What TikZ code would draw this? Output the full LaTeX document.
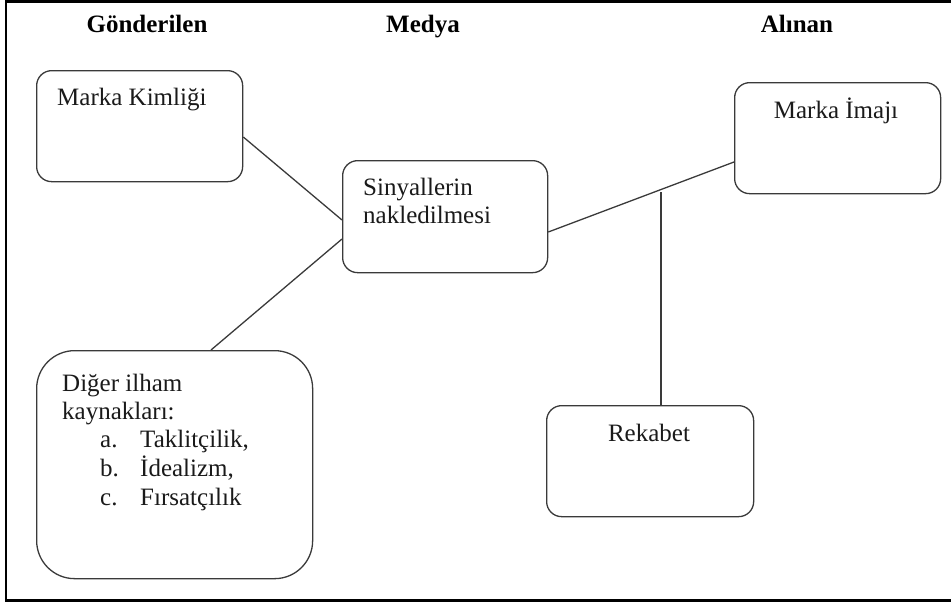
\documentclass[tikz,border=0pt]{standalone}
\usepackage{fontspec}
\setmainfont{Liberation Serif}
\usetikzlibrary{calc}
\definecolor{ink}{HTML}{1A1A1A}
\definecolor{edge}{HTML}{3A3A3A}
\tikzset{
  box/.style={draw=edge, line width=1.3pt, rounded corners=15pt, anchor=north west, inner sep=0pt, fill=white},
  bigbox/.style={box, rounded corners=38pt},
  txt/.style={font=\fontsize{25}{29}\selectfont, text=ink, inner sep=0pt, anchor=base west},
  ctxt/.style={txt, anchor=base},
  head/.style={font=\fontsize{25}{29}\selectfont\bfseries, text=black, inner sep=0pt, anchor=base},
  link/.style={draw=edge, line width=1.3pt},
  frame/.style={draw=black, line width=2.2pt}
}
\begin{document}
\begin{tikzpicture}[x=1pt,y=-1pt]
\useasboundingbox (0,0) rectangle (951,605);
\draw[frame] (953,1.5) -- (6,1.5) -- (6,600.5) -- (953,600.5);
% headers
\node[head] (h1) at (147,32) {Gönderilen};
\node[head] (h2) at (423,32) {Medya};
\node[head] (h3) at (797,32) {Alınan};
% boxes
\node[box, minimum width=206pt, minimum height=111pt] (mk) at (36,70) {};
\node[box, minimum width=205pt, minimum height=112pt] (si) at (342,160) {};
\node[bigbox, minimum width=276pt, minimum height=228pt] (di) at (36,350) {};
\node[box, minimum width=206pt, minimum height=111pt] (mi) at (734,82) {};
\node[box, minimum width=207pt, minimum height=111pt] (rk) at (546,405) {};
% texts
\node[txt] (mkt) at (57,105) {Marka Kimliği};
\node[txt] (sit1) at (363,195) {Sinyallerin};
\node[txt] (sit2) at (363,223) {nakledilmesi};
\node[txt] (dit1) at (62,391) {Diğer ilham};
\node[txt] (dit2) at (62,419) {kaynakları:};
\node[txt] (dia) at (100,447) {a.};
\node[txt] (dib) at (100,476) {b.};
\node[txt] (dic) at (100,505) {c.};
\node[txt] (dia2) at (140,447) {Taklitçilik,};
\node[txt] (dib2) at (140,476) {İdealizm,};
\node[txt] (dic2) at (140,505) {Fırsatçılık};
\node[ctxt] (mit) at (836,118) {Marka İmajı};
\node[ctxt] (rkt) at (649,441) {Rekabet};
% connectors
\draw[link] ([yshift=-67pt]mk.north east) -- ([yshift=-60pt]si.north west);
\draw[link] ([yshift=-79pt]si.north west) -- ([xshift=175pt]di.north west);
\draw[link] ([yshift=-72pt]si.north east) -- ([yshift=-80pt]mi.north west);
\coordinate (j) at (661,192);
\draw[link] (j) -- ([xshift=115pt]rk.north west);
\end{tikzpicture}
\end{document}
